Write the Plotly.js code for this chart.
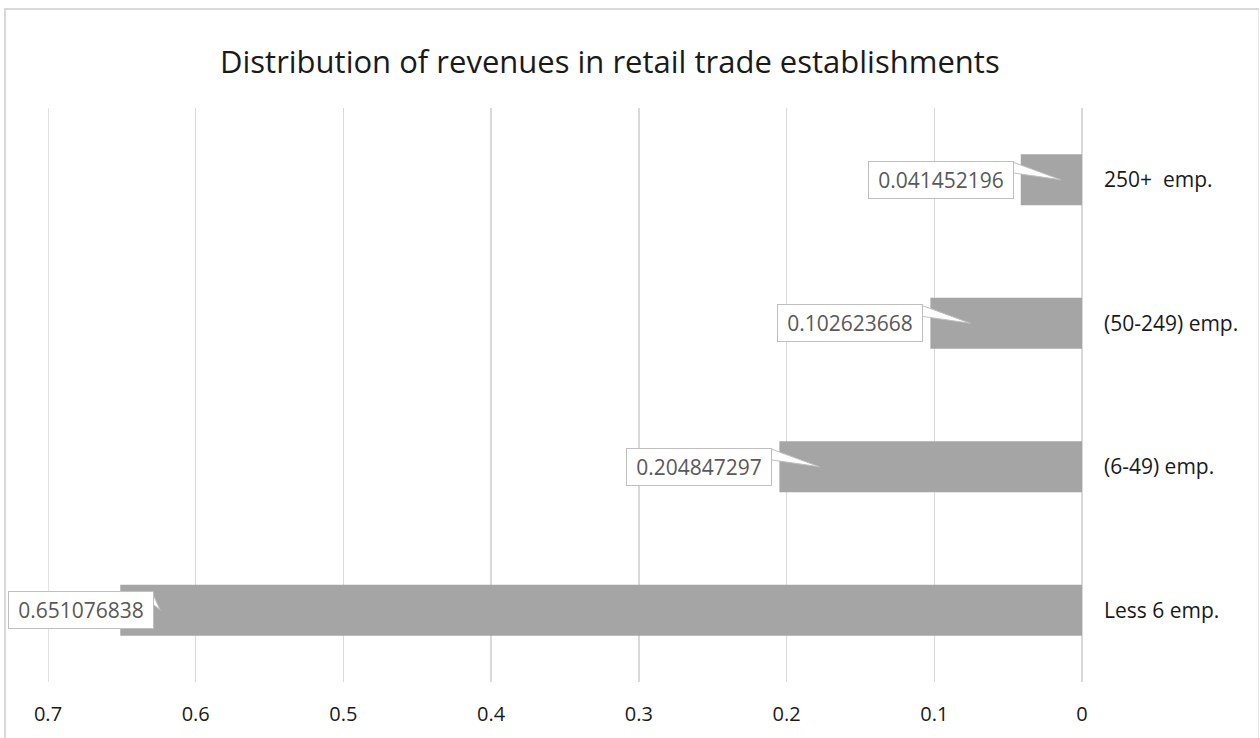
<!DOCTYPE html>
<html>
<head>
<meta charset="utf-8">
<script src="https://cdn.plot.ly/plotly-3.0.1.min.js"></script>
<style>
  html, body { margin: 0; padding: 0; background: #fff; }
  #wrap { position: relative; width: 1260px; height: 738px; }
  #chart { position: absolute; left: 0; top: 0; width: 1260px; height: 738px; }
  #frame { position: absolute; left: 4px; top: 8px; width: 1252px; height: 740px;
           border-left: 2px solid #d9d9d9; border-top: 2px solid #d9d9d9; border-right: 1px solid #e6e6e6;
           pointer-events: none; }
</style>
</head>
<body>
<div id="wrap">
  <div id="chart"></div>
  <div id="frame"></div>
</div>
<script>
// ---- data ----
const categories = ['Less 6 emp.', '(6-49) emp.', '(50-249) emp.', '250+  emp.'];
const values = [0.651076838, 0.204847297, 0.102623668, 0.041452196];
const valueLabels = ['0.651076838', '0.204847297', '0.102623668', '0.041452196'];
const xTickVals = [0.7, 0.6, 0.5, 0.4, 0.3, 0.2, 0.1, 0];
const xTickText = ['0.7', '0.6', '0.5', '0.4', '0.3', '0.2', '0.1', '0'];
const titleText = 'Distribution of revenues in retail trade establishments';

// ---- layout constants ----
const W = 1260, H = 738;
const M = { l: 48, r: 178, t: 108, b: 56 };
const plotW = W - M.l - M.r;
const xMax = 0.7;
const boxW = 146, boxH = 38, gap = 7, chartLeft = 8, tipOffset = 40;
const FONT = 'Open Sans, Noto Sans, sans-serif';
const GRID = '#d9d9d9';

const tickText = categories.map(c => c.replace(/  /g, ' \u00a0'));

const annotations = [];
const shapes = [];
// gridline at the far (left) edge of the axis, which Plotly does not draw itself
shapes.push({
  type: 'line', xref: 'x', yref: 'paper', x0: xMax, x1: xMax, y0: 0, y1: 1,
  layer: 'below', line: { color: GRID, width: 1.5 }
});
values.forEach((v, i) => {
  const px = M.l + (xMax - v) / xMax * plotW;   // pixel of the bar's end
  let rel = -gap;
  if (px - gap - boxW < chartLeft) rel = chartLeft + boxW - px;
  shapes.push({
    type: 'path', xref: 'x', yref: 'y', layer: 'above',
    xsizemode: 'pixel', ysizemode: 'pixel', xanchor: v, yanchor: i,
    path: `M ${rel - 2},18 L ${tipOffset},0 L ${rel - 2},7 Z`,
    fillcolor: '#ffffff', line: { color: '#bfbfbf', width: 1 }
  });
  annotations.push({
    x: v, y: i, xref: 'x', yref: 'y', xanchor: 'right', yanchor: 'middle',
    xshift: rel, showarrow: false, text: valueLabels[i],
    bgcolor: '#ffffff', bordercolor: '#bfbfbf', borderwidth: 1, borderpad: 1,
    width: boxW - 4, height: boxH - 4, align: 'center',
    font: { family: FONT, size: 21, color: '#595959' }
  });
});

const trace = {
  type: 'bar', orientation: 'h',
  x: values, y: categories,
  marker: { color: '#a5a5a5' },
  hoverinfo: 'skip'
};

const layout = {
  width: W, height: H,
  margin: M,
  paper_bgcolor: '#ffffff', plot_bgcolor: '#ffffff',
  showlegend: false,
  bargap: 0.645,
  title: {
    text: titleText, x: 0.484, xanchor: 'center', y: 0.916, yanchor: 'middle',
    font: { family: FONT, size: 31, color: '#1a1a1a' }
  },
  xaxis: {
    range: [xMax, 0], tickvals: xTickVals, ticktext: xTickText,
    showgrid: true, gridcolor: GRID, gridwidth: 1.5,
    zeroline: true, zerolinecolor: GRID, zerolinewidth: 1.5,
    showline: false, ticks: '', ticklabelstandoff: 18,
    tickfont: { family: FONT, size: 20, color: '#1a1a1a' }
  },
  yaxis: {
    type: 'category', side: 'right',
    tickvals: categories, ticktext: tickText,
    showgrid: false, zeroline: false, showline: false, ticks: '',
    ticklabelstandoff: 21,
    tickfont: { family: FONT, size: 21, color: '#1a1a1a' }
  },
  shapes: shapes,
  annotations: annotations
};

Plotly.newPlot('chart', [trace], layout, { displayModeBar: false, staticPlot: true });
</script>
</body>
</html>
